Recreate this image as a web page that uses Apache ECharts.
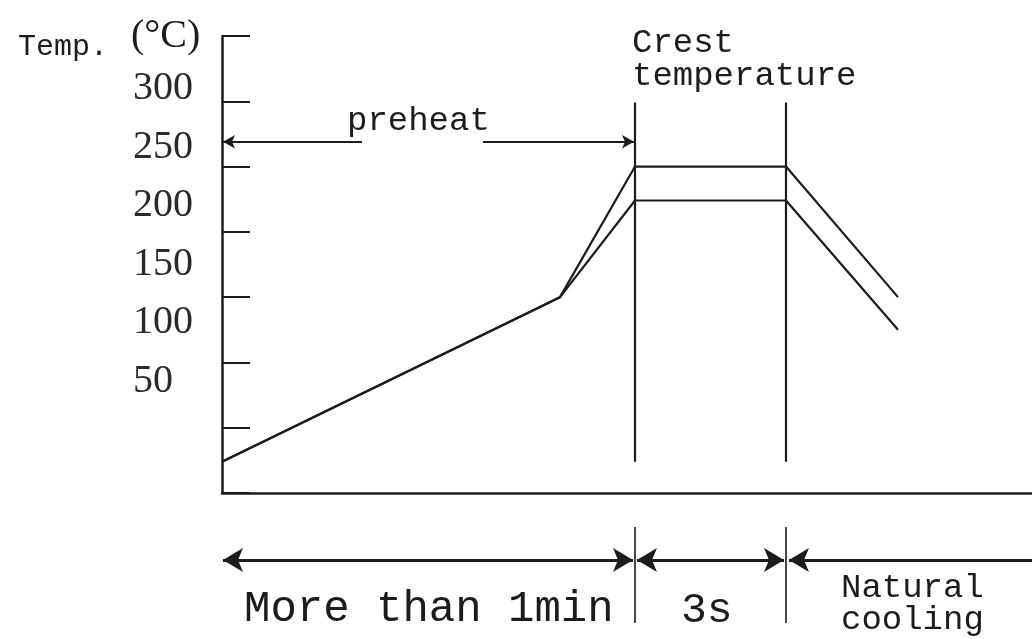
<!DOCTYPE html>
<html>
<head>
<meta charset="utf-8">
<script src="https://cdn.jsdelivr.net/npm/echarts@6/dist/echarts.min.js"></script>
<style>html,body{margin:0;padding:0;background:#fff}#c{width:1032px;height:639px}</style>
</head>
<body>
<div id="c"></div>
<script>
// ---- data (time in arbitrary units, temperature in °C) ----
const profileTime = [0, 33.8, 41.3, 56.4, 67.6];
const upperTemp = [24, 150, 250, 250, 150];
const lowerTemp = [24, 150, 224, 224, 125];
const crestTimes = [41.3, 56.4];
const crestLineRange = [24, 299];
const preheatY = 269;
const preheatSegments = [[0, 14.0], [26.1, 41.3]];
const tickLabels = [50, 100, 150, 200, 250, 300];
const phaseBounds = [0, 41.3, 56.4, 81];
const phaseLabels = ['More than 1min', '3s', 'Natural', 'cooling'];

const INK = '#1c1c1c';
const MONO = "'Liberation Mono', 'DejaVu Sans Mono', monospace";
const SERIF = "'Liberation Serif', 'DejaVu Serif', serif";

const chart = echarts.init(document.getElementById('c'));

function pairs(xs, ys) { return xs.map((x, i) => [x, ys[i]]); }

const series = [
  { type: 'line', xAxisIndex: 0, yAxisIndex: 0, data: pairs(profileTime, upperTemp), symbol: 'none',
    lineStyle: { color: INK, width: 2.2 }, silent: true, z: 3 },
  { type: 'line', xAxisIndex: 0, yAxisIndex: 0, data: pairs(profileTime, lowerTemp), symbol: 'none',
    lineStyle: { color: INK, width: 2.2 }, silent: true, z: 3 }
];
crestTimes.forEach(t => {
  series.push({ type: 'line', xAxisIndex: 0, yAxisIndex: 0,
    data: [[t, crestLineRange[0]], [t, crestLineRange[1]]], symbol: 'none',
    lineStyle: { color: INK, width: 2.2 }, silent: true });
});
// preheat arrow (two segments with a gap for the text)
series.push({
  type: 'line', xAxisIndex: 0, yAxisIndex: 0, data: [], silent: true,
  markLine: {
    silent: true, animation: false,
    lineStyle: { color: INK, width: 2, type: 'solid' }, label: { show: false },
    data: [
      [{ coord: [preheatSegments[0][0] + 0.1, preheatY], symbol: 'arrow', symbolSize: [10, 12] },
       { coord: [preheatSegments[0][1], preheatY], symbol: 'none' }],
      [{ coord: [preheatSegments[1][0], preheatY], symbol: 'none' },
       { coord: [preheatSegments[1][1] - 0.1, preheatY], symbol: 'arrow', symbolSize: [10, 12] }]
    ]
  }
});
// bottom phase arrows
series.push({
  type: 'line', xAxisIndex: 1, yAxisIndex: 2, data: [], silent: true,
  markLine: {
    silent: true, animation: false,
    lineStyle: { color: INK, width: 3, type: 'solid' }, label: { show: false },
    symbol: ['arrow', 'arrow'], symbolSize: [18, 20],
    data: [
      [{ coord: [phaseBounds[0] + 0.1, 0.6] }, { coord: [phaseBounds[1] - 0.2, 0.6] }],
      [{ coord: [phaseBounds[1] + 0.2, 0.6] }, { coord: [phaseBounds[2] - 0.2, 0.6] }],
      [{ coord: [phaseBounds[2] + 0.3, 0.6] }, { coord: [phaseBounds[3], 0.6], symbol: 'none' }]
    ]
  }
});
crestTimes.forEach(t => {
  series.push({ type: 'line', xAxisIndex: 1, yAxisIndex: 2,
    data: [[t, 0.93], [t, -0.03]], symbol: 'none',
    lineStyle: { color: '#333', width: 1.8 }, silent: true });
});

function txt(text, x, y, size, font, extra) {
  return Object.assign({ type: 'text', x: x, y: y, silent: true,
    style: { text: text, fill: INK, font: size + 'px ' + font, textVerticalAlign: 'middle', textAlign: 'left' } }, extra || {});
}

chart.setOption({
  animation: false,
  backgroundColor: '#fff',
  grid: [
    { left: 222, right: 0, top: 36, height: 457, containLabel: false },
    { left: 222, right: 0, top: 520, height: 110, containLabel: false }
  ],
  xAxis: [
    { type: 'value', gridIndex: 0, min: 0, max: 81,
      axisLine: { show: true, onZero: false, lineStyle: { color: INK, width: 2.5 } },
      axisTick: { show: false }, axisLabel: { show: false }, splitLine: { show: false } },
    { type: 'value', gridIndex: 1, min: 0, max: 81, show: false }
  ],
  yAxis: [
    { type: 'value', gridIndex: 0, min: 0, max: 350, interval: 50,
      axisLine: { show: true, lineStyle: { color: INK, width: 2.5 } },
      axisTick: { show: true, inside: true, length: 28, lineStyle: { color: INK, width: 2 } },
      axisLabel: { show: false }, splitLine: { show: false } },
    { type: 'value', gridIndex: 0, min: -45.7, max: 344.9, position: 'left',
      axisLine: { show: false }, axisTick: { show: false }, splitLine: { show: false },
      axisLabel: { show: true, customValues: tickLabels, align: 'left', margin: 89,
        fontFamily: SERIF, fontSize: 40, color: '#2a2a2a' } },
    { type: 'value', gridIndex: 1, min: -0.1, max: 1, show: false }
  ],
  graphic: [
    txt('Temp.', 18, 47, 30, MONO),
    txt('(°C)', 131, 36, 40, SERIF),
    txt('Crest', 632, 43, 34, MONO),
    txt('temperature', 632, 76, 34, MONO),
    txt('preheat', 347, 121, 34, MONO),
    txt(phaseLabels[0], 244, 609, 44, MONO),
    txt(phaseLabels[1], 681, 611, 43, MONO),
    txt(phaseLabels[2], 841, 588, 34, MONO),
    txt(phaseLabels[3], 841, 620, 34, MONO)
  ],
  series: series
});
</script>
</body>
</html>
